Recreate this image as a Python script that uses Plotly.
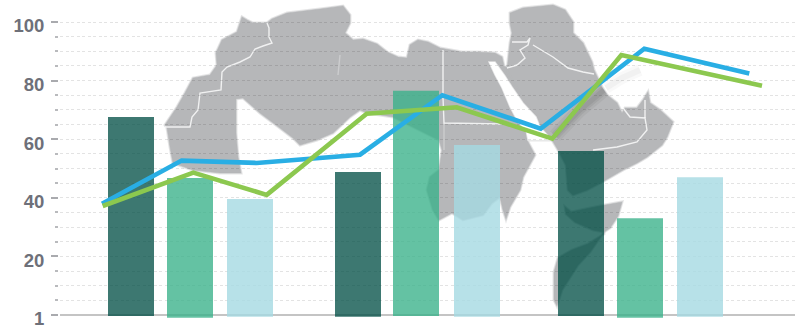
import plotly.graph_objects as go

# Bars: centre position, top value and the small overhang below the axis line
bar_x = [131, 190, 250, 358, 416, 477, 581, 640, 700]
bar_values = [67.6, 46.8, 39.6, 48.8, 76.5, 58.0, 56.0, 33.0, 47.0]
bar_bases = [-0.35, -0.9, -0.6, -0.6, -0.35, -0.6, -0.35, -0.9, -0.6]
bar_colors = ["rgba(0,78,68,0.76)", "rgba(56,177,137,0.78)", "rgba(165,217,226,0.8)"] * 3

# Two trend lines, each with its own positions along the horizontal axis
blue_x = [102, 181.7, 256.7, 360, 442.3, 540.7, 644.3, 749.3]
blue_y = [38.0, 52.7, 51.9, 54.7, 75.0, 63.6, 90.9, 82.4]
green_x = [102.7, 193.3, 266.7, 366.7, 456.7, 552.3, 621.3, 762]
green_y = [37.2, 48.6, 41.0, 68.7, 70.9, 60.2, 88.7, 78.2]

major_ticks = [0, 20, 40, 60, 80, 100]
major_labels = ["1", "20", "40", "60", "80", "100"]
minor_ticks = [5, 10, 15, 25, 30, 35, 45, 50, 55, 65, 70, 75, 85, 90, 95]

# Backdrop map outlines, in canvas pixels
ZERO_PX = 315.0
PX_PER_UNIT = 2.93

africa = [
    (242, 17), (247, 20), (253, 23), (267, 23), (272, 19), (287, 13), (320, 9), (343, 6), (350, 15),
    (350, 23), (345, 33), (353, 40), (363, 39), (377, 44), (387, 52), (398, 57), (407, 58), (410, 45),
    (418, 40), (428, 42), (440, 48), (462, 52), (478, 52), (495, 53), (502, 57), (504, 66), (508, 68),
    (512, 60), (520, 85), (540, 118), (552, 140), (533, 140), (527, 140), (535, 155), (523, 177),
    (520, 190), (510, 207), (506, 219), (503, 210), (500, 197), (492, 203), (483, 215), (463, 220),
    (452, 213), (439, 220), (433, 210), (427, 190), (430, 177), (439, 170), (442, 150), (439, 140),
    (393, 117), (367, 113), (360, 110), (350, 117), (333, 133), (317, 140), (300, 145), (293, 138),
    (280, 128), (260, 113), (243, 98), (236, 99), (236, 133), (238, 157), (241, 173), (220, 173),
    (193, 170), (173, 163), (170, 147), (167, 128), (165, 125), (177, 107), (185, 93), (193, 78),
    (210, 75), (217, 65), (216, 53), (222, 40), (237, 32),
]
arabia = [
    (510, 13), (523, 8), (553, 5), (565, 10), (573, 22), (573, 33), (583, 43), (592, 62), (594, 70),
    (602, 87), (607, 95), (617, 103), (622, 113), (625, 108), (637, 108), (643, 100), (648, 92),
    (650, 103), (660, 110), (673, 122), (667, 137), (662, 145), (647, 157), (637, 163), (623, 170),
    (604, 181), (587, 190), (573, 195), (568, 190), (566, 165), (558, 150), (552, 140), (540, 122),
    (522, 95), (507, 70), (510, 43), (512, 33), (510, 23),
]
horn_north = [
    (565, 207), (571, 212), (590, 208), (605, 205), (622, 202), (618, 216), (610, 228), (604, 232),
    (593, 230), (575, 222), (566, 214),
]
horn_south = [
    (604, 232), (590, 252), (578, 265), (562, 290), (557, 306), (554, 300), (554, 272), (558, 258),
    (572, 250), (588, 244), (604, 234),
]
red_sea = [
    (489, 62), (495, 62), (505, 76), (512, 87), (523, 103), (536, 117), (540, 127), (552, 140),
    (528, 140), (526, 130), (518, 122), (510, 107), (502, 88), (495, 75),
]
borders = [
    [(267, 23), (269, 28), (269, 37), (272, 43), (263, 46), (255, 49), (250, 57), (240, 62), (227, 67),
     (222, 72), (221, 90), (200, 93), (198, 110), (192, 117), (190, 127), (165, 127)],
    [(443, 50), (443, 97), (444, 123), (502, 124)],
    [(512, 42), (527, 42), (530, 38), (528, 45), (520, 50), (525, 58), (517, 65), (507, 68)],
    [(533, 45), (553, 57), (568, 68), (583, 72), (594, 74)],
    [(623, 108), (630, 117), (645, 118), (647, 130), (637, 142), (617, 147), (593, 150)],
    [(645, 118), (645, 100)],
]
borders_faint = [[(444, 123), (444, 150)], [(340, 55), (338, 75)]]
coast_shade = [(555, 136), (580, 110), (604, 90)]
coast_glow = [(606, 88), (622, 78), (640, 70)]

GRID = "rgba(0,0,0,0.11)"
GRID_DASH = "3px,2.5px"


def to_y(py):
    return (ZERO_PX - py) / PX_PER_UNIT


def path_of(points, closed=False):
    body = " L ".join(f"{x} {to_y(y):.3f}" for x, y in points)
    return "M " + body + (" Z" if closed else "")


def map_shape(points, fill=None, line_color=None, width=0, closed=False):
    return dict(
        type="path", xref="x", yref="y", layer="below", path=path_of(points, closed),
        fillcolor=fill if fill else "rgba(0,0,0,0)",
        line=dict(color=line_color if line_color else "rgba(0,0,0,0)", width=width),
    )


shapes = []
LAND = "#b6b7b9"
for land in (africa, arabia, horn_north, horn_south):
    shapes.append(map_shape(land, None, "rgba(182,183,185,0.35)", 3, closed=True))
    shapes.append(map_shape(land, LAND, "rgba(182,183,185,0.6)", 1.2, closed=True))
shapes.append(map_shape(red_sea, "#ffffff", "rgba(255,255,255,0.6)", 1.5, closed=True))
for width, alpha in ((14, 0.07), (9, 0.09), (5, 0.1)):
    shapes.append(map_shape(coast_shade, None, f"rgba(70,70,72,{alpha})", width))
for width, alpha in ((12, 0.04), (6, 0.05)):
    shapes.append(map_shape(coast_glow, None, f"rgba(90,90,90,{alpha})", width))
for border in borders:
    shapes.append(map_shape(border, None, "rgba(255,255,255,0.8)", 1.4))
for border in borders_faint:
    shapes.append(map_shape(border, None, "rgba(255,255,255,0.3)", 1.4))

fig = go.Figure()
fig.add_trace(go.Bar(
    x=bar_x,
    y=[v - b for v, b in zip(bar_values, bar_bases)],
    base=bar_bases,
    width=46,
    marker=dict(color=bar_colors, line=dict(width=0)),
    showlegend=False,
))
fig.add_trace(go.Scatter(x=blue_x, y=blue_y, mode="lines", line=dict(color="#29aee4", width=4.6), showlegend=False))
fig.add_trace(go.Scatter(x=green_x, y=green_y, mode="lines", line=dict(color="#8cc84f", width=4.6), showlegend=False))

fig.update_layout(
    width=795,
    height=328,
    margin=dict(l=58, r=0, t=0, b=0),
    paper_bgcolor="white",
    plot_bgcolor="white",
    font=dict(family="Liberation Sans, Arial, sans-serif"),
    shapes=shapes,
    xaxis=dict(
        range=[60, 795],
        domain=[2 / 737, 1],
        visible=False,
    ),
    yaxis=dict(
        anchor="free",
        position=0,
        range=[to_y(328), to_y(0)],
        tickmode="array",
        tickvals=major_ticks,
        ticktext=major_labels,
        ticks="outside",
        ticklen=7,
        tickwidth=2,
        tickcolor="#a9aaae",
        ticklabelstandoff=3,
        ticklabelshift=4,
        ticklabeloverflow="allow",
        tickfont=dict(size=18.5, color="#6e7079", family="Liberation Sans, Arial, sans-serif", weight="bold"),
        showline=False,
        showgrid=True,
        gridcolor=GRID,
        griddash=GRID_DASH,
        gridwidth=1,
        zeroline=True,
        zerolinecolor="#c4c4c4",
        zerolinewidth=2,
        minor=dict(
            tickmode="array",
            tickvals=minor_ticks,
            ticks="outside",
            ticklen=3,
            tickwidth=1.5,
            tickcolor="#b9babd",
            showgrid=True,
            gridcolor=GRID,
            griddash=GRID_DASH,
            gridwidth=1,
        ),
    ),
)

fig.write_html("out.html")
